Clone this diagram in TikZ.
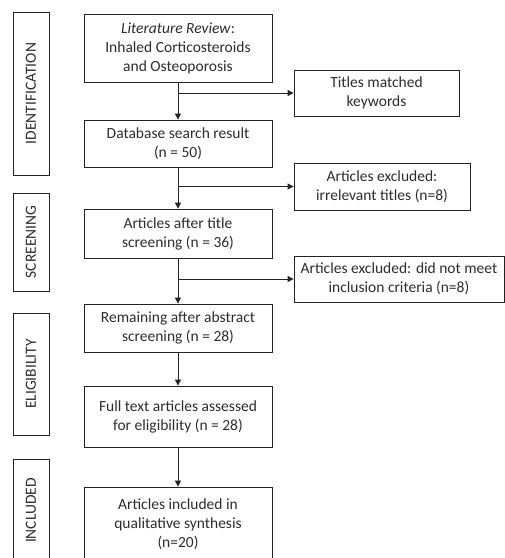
\documentclass[tikz,border=0pt]{standalone}
\usepackage{fontspec}
\setmainfont{Carlito}
\usetikzlibrary{arrows.meta,positioning}
\definecolor{boxline}{RGB}{35,35,35}
\definecolor{boxtext}{RGB}{45,45,45}
\newcommand{\flowfont}{\fontsize{15.5}{19}\selectfont}

\begin{document}
\begin{tikzpicture}[x=1pt, y=-1pt,
    flowbox/.style={draw=boxline, line width=0.8pt, align=center,
                    inner sep=2pt, font=\flowfont, text=boxtext},
    phase/.style={draw=boxline, line width=0.8pt, rotate=90,
                  inner sep=0pt, font=\flowfont, text=boxtext},
    arr/.style={draw=boxline, line width=0.8pt,
                -{Triangle[length=6pt,width=6pt]}}]
  \useasboundingbox (0,0) rectangle (505,558);
  % Phase labels on the left
  \node[phase, minimum width=163pt, minimum height=36pt] (ident) at (31,93.5) {IDENTIFICATION};
  \node[phase, minimum width=98pt, minimum height=36pt] (screen) at (31,242) {SCREENING};
  \node[phase, minimum width=122pt, minimum height=36pt] (elig) at (31,374) {ELIGIBILITY};
  \node[phase, minimum width=103pt, minimum height=36pt] (incl) at (31,510.5) {INCLUDED};
  % Main column
  \node[flowbox, minimum width=188pt, minimum height=68pt] (lit) at (178,48)
    {\textit{Literature Review}:\\Inhaled Corticosteroids\\and Osteoporosis};
  \node[flowbox, minimum width=188pt, minimum height=47pt] (db) at (178,143.5)
    {Database search result\\(n = 50)};
  \node[flowbox, minimum width=188pt, minimum height=49pt] (title) at (178,233.5)
    {Articles after title\\screening (n = 36)};
  \node[flowbox, minimum width=188pt, minimum height=48pt] (remain) at (178,328)
    {Remaining after abstract\\screening (n = 28)};
  \node[flowbox, minimum width=188pt, minimum height=61pt] (full) at (178,416.5)
    {Full text articles assessed\\for eligibility (n = 28)};
  \node[flowbox, minimum width=188pt, minimum height=75pt] (final) at (178,524.5)
    {Articles included in\\qualitative synthesis\\(n=20)};
  % Side boxes
  \node[flowbox, minimum width=165pt, minimum height=46pt] (titles) at (376.5,93)
    {Titles matched\\keywords};
  \node[flowbox, minimum width=176pt, minimum height=47pt] (excl1) at (382,186.5)
    {Articles excluded:\\irrelevant titles (n=8)};
  \node[flowbox, minimum width=210pt, minimum height=46pt] (excl2) at (399,279)
    {Articles excluded: did not meet\\inclusion criteria (n=8)};
  % Arrows
  \draw[arr] (lit) -- (db);
  \draw[arr] (lit.south |- titles.west) -- (titles.west);
  \draw[arr] (db) -- (title);
  \draw[arr] (db.south |- excl1.west) -- (excl1.west);
  \draw[arr] (title) -- (remain);
  \draw[arr] (title.south |- excl2.west) -- (excl2.west);
  \draw[arr] (remain) -- (full);
  \draw[arr] (full) -- (final);
\end{tikzpicture}
\end{document}
